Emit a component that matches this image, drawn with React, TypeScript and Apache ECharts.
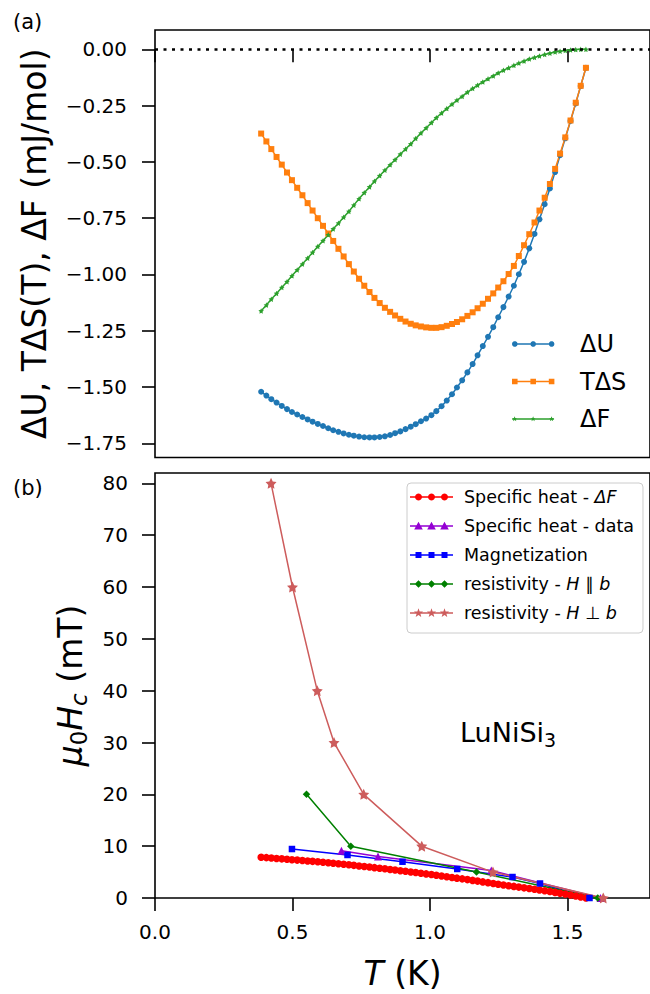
import React, { useEffect, useRef } from 'react';
import * as echarts from 'echarts';

// ---------- data ----------
const T = [0.386, 0.405, 0.423, 0.442, 0.461, 0.480, 0.498, 0.517, 0.536, 0.555,
  0.573, 0.592, 0.611, 0.630, 0.648, 0.667, 0.686, 0.705, 0.723, 0.742,
  0.761, 0.780, 0.798, 0.817, 0.836, 0.855, 0.873, 0.892, 0.911, 0.930,
  0.948, 0.967, 0.986, 1.005, 1.023, 1.042, 1.061, 1.080, 1.098, 1.117,
  1.136, 1.155, 1.173, 1.192, 1.211, 1.230, 1.248, 1.267, 1.286, 1.305,
  1.323, 1.342, 1.361, 1.380, 1.398, 1.417, 1.436, 1.455, 1.473, 1.492,
  1.511, 1.530, 1.548, 1.567];

const deltaU = [-1.521, -1.538, -1.554, -1.569, -1.584, -1.598, -1.611, -1.622, -1.633, -1.644,
  -1.654, -1.664, -1.673, -1.683, -1.692, -1.699, -1.706, -1.712, -1.716, -1.720,
  -1.723, -1.724, -1.724, -1.722, -1.719, -1.713, -1.705, -1.697, -1.687, -1.676,
  -1.665, -1.652, -1.640, -1.625, -1.607, -1.585, -1.560, -1.532, -1.502, -1.470,
  -1.435, -1.398, -1.359, -1.318, -1.277, -1.234, -1.190, -1.145, -1.098, -1.050,
  -0.999, -0.944, -0.884, -0.820, -0.755, -0.688, -0.618, -0.545, -0.470, -0.395,
  -0.318, -0.240, -0.163, -0.082];

const tDeltaS = [-0.374, -0.409, -0.443, -0.478, -0.512, -0.547, -0.581, -0.615, -0.648, -0.683,
  -0.716, -0.750, -0.784, -0.818, -0.851, -0.886, -0.920, -0.954, -0.987, -1.019,
  -1.050, -1.078, -1.104, -1.127, -1.148, -1.166, -1.182, -1.197, -1.209, -1.219,
  -1.226, -1.231, -1.235, -1.237, -1.237, -1.234, -1.228, -1.220, -1.211, -1.199,
  -1.184, -1.168, -1.150, -1.130, -1.108, -1.084, -1.058, -1.030, -0.998, -0.962,
  -0.918, -0.870, -0.821, -0.769, -0.716, -0.659, -0.598, -0.531, -0.463, -0.391,
  -0.316, -0.237, -0.162, -0.082];

const deltaF = [-1.162, -1.136, -1.110, -1.084, -1.058, -1.032, -1.006, -0.980, -0.954, -0.928,
  -0.902, -0.876, -0.850, -0.824, -0.798, -0.772, -0.746, -0.720, -0.692, -0.664,
  -0.637, -0.611, -0.586, -0.561, -0.537, -0.513, -0.490, -0.466, -0.443, -0.420,
  -0.396, -0.372, -0.349, -0.326, -0.304, -0.283, -0.263, -0.244, -0.226, -0.209,
  -0.190, -0.174, -0.159, -0.145, -0.131, -0.118, -0.105, -0.093, -0.082, -0.071,
  -0.061, -0.052, -0.043, -0.036, -0.029, -0.023, -0.017, -0.012, -0.008, -0.005,
  -0.003, -0.001, 0.000, 0.000];

const hcFromDeltaF = [7.87, 7.79, 7.71, 7.63, 7.55, 7.47, 7.39, 7.31, 7.23, 7.15,
  7.07, 6.99, 6.90, 6.81, 6.71, 6.61, 6.51, 6.40, 6.30, 6.19,
  6.08, 5.97, 5.86, 5.75, 5.63, 5.51, 5.39, 5.27, 5.15, 5.03,
  4.91, 4.78, 4.65, 4.52, 4.38, 4.25, 4.11, 3.97, 3.83, 3.69,
  3.55, 3.40, 3.26, 3.11, 2.96, 2.81, 2.66, 2.51, 2.38, 2.24,
  2.10, 1.96, 1.82, 1.68, 1.54, 1.39, 1.24, 1.08, 0.92, 0.75,
  0.57, 0.39, 0.20, 0.00];

const heatDataT = [0.678, 0.811, 1.223, 1.62];
const heatDataH = [9.1, 8.0, 5.3, 0];
const magT = [0.498, 0.70, 0.90, 1.099, 1.30, 1.40, 1.58];
const magH = [9.45, 8.3, 7.0, 5.6, 4.05, 2.8, 0];
const resParT = [0.551, 0.712, 1.169, 1.61];
const resParH = [20, 10, 5, 0];
const resPerpT = [0.422, 0.50, 0.59, 0.651, 0.759, 0.970, 1.229, 1.63];
const resPerpH = [80, 60, 40, 30, 20, 10, 5, 0];

const xTicks = [0, 0.5, 1.0, 1.5];
const yTicksTop = [0, -0.25, -0.5, -0.75, -1.0, -1.25, -1.5, -1.75];
const yTicksBottom = [0, 10, 20, 30, 40, 50, 60, 70, 80];

const topNames = ['ΔU', 'TΔS', 'ΔF'];
const bottomNames = ['Specific heat - ΔF', 'Specific heat - data', 'Magnetization', 'resistivity - H ∥ b', 'resistivity - H ⊥ b'];
const bottomLabels: Record<string, string> = {
  'Specific heat - ΔF': 'Specific heat - {i|ΔF}',
  'Specific heat - data': 'Specific heat - data',
  'Magnetization': 'Magnetization',
  'resistivity - H ∥ b': 'resistivity - {i|H} ∥ {i|b}',
  'resistivity - H ⊥ b': 'resistivity - {i|H} ⊥ {i|b}',
};

// ---------- styling helpers ----------
const FONT = '"DejaVu Sans", sans-serif';
const STAR = 'path://M0,-10L2.939,-4.045L9.511,-3.09L4.755,1.545L5.878,8.09L0,5L-5.878,8.09L-4.755,1.545L-9.511,-3.09L-2.939,-4.045Z';

function markerPts(shape: string, cx: number, cy: number, r: number): number[][] {
  const out: number[][] = [];
  if (shape === 'circle') {
    for (let k = 0; k < 20; k++) {
      const a = -Math.PI / 2 + (k * 2 * Math.PI) / 20;
      out.push([cx + r * Math.cos(a), cy + r * Math.sin(a)]);
    }
  } else if (shape === 'square') {
    out.push([cx - r, cy - r], [cx + r, cy - r], [cx + r, cy + r], [cx - r, cy + r]);
  } else if (shape === 'triangle') {
    out.push([cx, cy - r], [cx + r, cy + r * 0.8], [cx - r, cy + r * 0.8]);
  } else if (shape === 'diamond') {
    out.push([cx, cy - r], [cx + r, cy], [cx, cy + r], [cx - r, cy]);
  } else {
    for (let k = 0; k < 10; k++) {
      const a = -Math.PI / 2 + (k * Math.PI) / 5;
      const rr = k % 2 === 0 ? r : r * 0.4;
      out.push([cx + rr * Math.cos(a), cy + rr * Math.sin(a)]);
    }
  }
  return out;
}
function poly(p: number[][]) {
  return 'M' + p.map((q) => q[0].toFixed(2) + ',' + q[1].toFixed(2)).join('L') + 'Z';
}
function legendIcon(shape: string, r: number, W: number, H: number, lineLen: number, xs: number[]) {
  const c = H / 2;
  const h = 0.75;
  let d = poly([[0, c - h], [lineLen, c - h], [lineLen, c + h], [0, c + h]]);
  xs.forEach((x) => { d += poly(markerPts(shape, x, c, r)); });
  d += `M0,0L0,0ZM${W},${H}L${W},${H}Z`;
  return 'path://' + d;
}

const pair = (xs: number[], ys: number[]) => xs.map((x, i) => [x, ys[i]]);

export default function App() {
  const ref = useRef<HTMLDivElement>(null);
  useEffect(() => {
    if (!ref.current) return;
    const chart = echarts.init(ref.current, undefined, { renderer: 'svg' });

    const tickStyle = { show: true, length: 13, inside: false, lineStyle: { color: '#000', width: 1.6 } };
    const labelBase = { color: '#000', fontSize: 20, fontFamily: FONT, lineHeight: 20 };

    const topColors = ['#1f77b4', '#ff7f0e', '#2ca02c'];
    const topSeriesData = [deltaU, tDeltaS, deltaF];
    const topSymbols = ['circle', 'rect', STAR];
    const topSizes = [6, 6, 5.5];

    const bottomColors = ['#ff0000', '#9400d3', '#0000ff', '#008000', '#cd5c5c'];
    const bottomData = [pair(T, hcFromDeltaF), pair(heatDataT, heatDataH), pair(magT, magH), pair(resParT, resParH), pair(resPerpT, resPerpH)];
    const bottomSymbols = ['circle', 'triangle', 'rect', 'diamond', STAR];
    const bottomSizes = [7.5, 8, 6.5, 7.5, 11];

    const topIconShapes = [['circle', 2.8], ['square', 2.8], ['star', 2.8]] as const;
    const bottomIconShapes = [['circle', 3.5], ['triangle', 4.3], ['square', 3], ['diamond', 3.8], ['star', 4.8]] as const;

    const series: any[] = [];
    topNames.forEach((name, k) => {
      series.push({
        name, type: 'line', xAxisIndex: 0, yAxisIndex: 0,
        data: pair(T, topSeriesData[k]),
        symbol: topSymbols[k], symbolSize: topSizes[k],
        itemStyle: { color: topColors[k] },
        lineStyle: { color: topColors[k], width: 1.5 },
        ...(k === 2 ? {
          markLine: {
            silent: true, symbol: ['none', 'none'], label: { show: false },
            lineStyle: { color: '#000', width: 2.6, type: [3, 5.5] },
            data: [{ yAxis: 0 }],
          },
        } : {}),
      });
    });
    bottomNames.forEach((name, k) => {
      series.push({
        name, type: 'line', xAxisIndex: 1, yAxisIndex: 1,
        data: bottomData[k],
        symbol: bottomSymbols[k], symbolSize: bottomSizes[k],
        itemStyle: { color: bottomColors[k] },
        lineStyle: { color: bottomColors[k], width: 1.5 },
      });
    });

    const option: any = {
      animation: false,
      backgroundColor: '#ffffff',
      textStyle: { fontFamily: FONT },
      grid: [
        { left: 155, top: 30, height: 427.5, right: -3, show: true, borderColor: '#000', borderWidth: 1.6, backgroundColor: 'transparent' },
        { left: 155, top: 473, height: 427, right: -3, show: true, borderColor: '#000', borderWidth: 1.6, backgroundColor: 'transparent' },
      ],
      xAxis: [
        {
          gridIndex: 0, type: 'value', min: 0, max: 1.8,
          axisLine: { show: false }, splitLine: { show: false },
          axisTick: { ...tickStyle, customValues: xTicks },
          axisLabel: { show: false },
        },
        {
          gridIndex: 1, type: 'value', min: 0, max: 1.8,
          axisLine: { show: false }, splitLine: { show: false },
          axisTick: { ...tickStyle, customValues: xTicks },
          axisLabel: { ...labelBase, margin: 24, customValues: xTicks, formatter: (v: number) => v.toFixed(1) },
          name: '{i|T} (K)', nameLocation: 'middle', nameGap: 55,
          nameTextStyle: {
            color: '#000', fontSize: 33, fontFamily: FONT, lineHeight: 40,
            rich: { i: { fontStyle: 'italic', fontSize: 33, fontFamily: FONT, lineHeight: 40, color: '#000' } },
          },
        },
      ],
      yAxis: [
        {
          gridIndex: 0, type: 'value', min: -1.813, max: 0.086,
          axisLine: { show: false }, splitLine: { show: false },
          axisTick: { ...tickStyle, customValues: yTicksTop },
          axisLabel: {
            ...labelBase, margin: 28, customValues: yTicksTop,
            formatter: (v: number) => (v < 0 ? '\u2212' : '') + Math.abs(v).toFixed(2),
          },
          name: 'ΔU, TΔS(T), ΔF (mJ/mol)', nameLocation: 'middle', nameGap: 101, nameRotate: 90,
          nameTextStyle: { color: '#000', fontSize: 33, fontFamily: FONT, lineHeight: 40 },
        },
        {
          gridIndex: 1, type: 'value', min: 0, max: 82,
          axisLine: { show: false }, splitLine: { show: false },
          axisTick: { ...tickStyle, customValues: yTicksBottom },
          axisLabel: { ...labelBase, margin: 27, customValues: yTicksBottom, formatter: (v: number) => String(v) },
          name: '{i|μ}{s|0}{i|H}{si|c} (mT)', nameLocation: 'middle', nameGap: 65, nameRotate: 90,
          nameTextStyle: {
            color: '#000', fontSize: 33, fontFamily: FONT, lineHeight: 40,
            rich: {
              i: { fontStyle: 'italic', fontSize: 33, fontFamily: FONT, lineHeight: 40, color: '#000' },
              s: { fontSize: 23, fontFamily: FONT, lineHeight: 22, verticalAlign: 'bottom', color: '#000' },
              si: { fontStyle: 'italic', fontSize: 23, fontFamily: FONT, lineHeight: 22, verticalAlign: 'bottom', color: '#000' },
            },
          },
        },
      ],
      legend: [
        {
          data: topNames.map((name, k) => ({
            name, icon: legendIcon(topIconShapes[k][0], topIconShapes[k][1], 63, 10, 42, [2.5, 21, 39.5]),
          })),
          orient: 'vertical', left: 512, top: 330, padding: 0,
          itemWidth: 63, itemHeight: 10, itemGap: 9.5,
          selectedMode: false, itemStyle: { borderWidth: 0 },
          textStyle: { color: '#000', fontSize: 24, fontFamily: FONT, lineHeight: 28 },
        },
        {
          data: bottomNames.map((name, k) => ({
            name, icon: legendIcon(bottomIconShapes[k][0], bottomIconShapes[k][1], 49, 10, 43, [8.5, 21.5, 34.5]),
          })),
          orient: 'vertical', left: 407, top: 483, padding: [3, 9, 9, 3],
          itemWidth: 49, itemHeight: 10, itemGap: 7,
          backgroundColor: 'rgba(255,255,255,0.8)', borderColor: '#cccccc', borderWidth: 1, borderRadius: 4,
          selectedMode: false, itemStyle: { borderWidth: 0 },
          formatter: (name: string) => bottomLabels[name] ?? name,
          textStyle: {
            color: '#000', fontSize: 17.5, fontFamily: FONT, lineHeight: 22,
            rich: { i: { fontStyle: 'italic', fontSize: 17.5, fontFamily: FONT, lineHeight: 22, color: '#000' } },
          },
        },
      ],
      graphic: [
        { type: 'text', x: 13, y: 22, style: { text: '(a)', fontSize: 21, fontFamily: FONT, fill: '#000', verticalAlign: 'middle' } },
        { type: 'text', x: 13, y: 488, style: { text: '(b)', fontSize: 21, fontFamily: FONT, fill: '#000', verticalAlign: 'middle' } },
        {
          type: 'text', x: 460, y: 732,
          style: {
            text: '{m|LuNiSi}{s|3}', verticalAlign: 'middle',
            rich: {
              m: { fontSize: 27, fontFamily: FONT, lineHeight: 34, fill: '#000' },
              s: { fontSize: 19, fontFamily: FONT, lineHeight: 20, verticalAlign: 'bottom', fill: '#000' },
            },
          },
        },
      ],
      series,
    };
    chart.setOption(option);
    return () => chart.dispose();
  }, []);
  return <div ref={ref} style={{ position: 'fixed', left: 0, top: 0, width: 650, height: 994 }} />;
}
